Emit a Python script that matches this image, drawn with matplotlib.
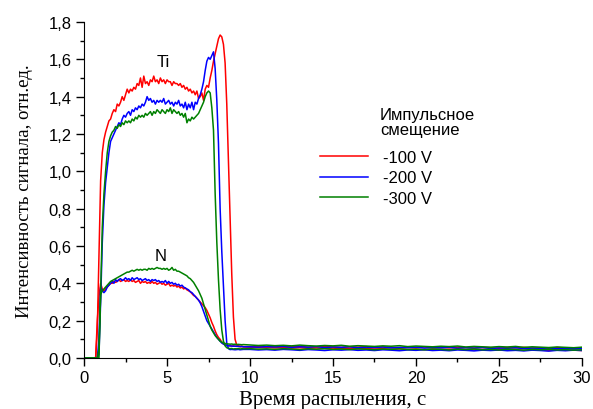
import numpy as np
import matplotlib
matplotlib.use("Agg")
import matplotlib.pyplot as plt
from matplotlib.ticker import MultipleLocator, FuncFormatter

# время: до начала сигнала, основной участок (шаг 0.1 с), хвост (шаг 0.5 с)
t_pre = [0.0, 0.4]
t_main = np.round(np.arange(0.7, 9.65, 0.1), 2)
t_tail = np.round(np.arange(10.0, 30.01, 0.5), 2)
t = np.concatenate([t_pre, t_main, t_tail])

# Ti, -100 V
ti_100 = [0.0, 0.0,
          0.00, 0.15, 0.55, 0.95, 1.10, 1.17, 1.21, 1.24, 1.27, 1.28,
          1.31, 1.33, 1.32, 1.36, 1.35, 1.37, 1.40, 1.38, 1.41, 1.44,
          1.42, 1.44, 1.43, 1.45, 1.44, 1.47, 1.46, 1.50, 1.45, 1.51,
          1.47, 1.48, 1.46, 1.49, 1.48, 1.51, 1.48, 1.49, 1.47, 1.50,
          1.48, 1.49, 1.47, 1.49, 1.48, 1.48, 1.46, 1.48, 1.47, 1.47,
          1.46, 1.47, 1.45, 1.46, 1.44, 1.45, 1.43, 1.44, 1.42, 1.43,
          1.41, 1.43, 1.39, 1.40, 1.42, 1.38, 1.44, 1.46, 1.45, 1.50,
          1.54, 1.59, 1.63, 1.67, 1.71, 1.73, 1.72, 1.68, 1.58, 1.36,
          1.05, 0.72, 0.45, 0.22, 0.10, 0.07, 0.065, 0.06, 0.062, 0.06,
          0.058, 0.055, 0.057, 0.054, 0.056, 0.053, 0.055, 0.052, 0.054, 0.051,
          0.053, 0.050, 0.052, 0.049, 0.051, 0.048, 0.050, 0.047, 0.049, 0.046,
          0.048, 0.045, 0.047, 0.046, 0.044, 0.047, 0.045, 0.043, 0.046, 0.044,
          0.042, 0.045, 0.043, 0.041, 0.044, 0.042, 0.040, 0.043, 0.041, 0.042, 0.040]

# Ti, -200 V
ti_200 = [0.0, 0.0,
          0.00, 0.00, 0.02, 0.30, 0.62, 0.82, 0.94, 1.02, 1.10, 1.16,
          1.18, 1.20, 1.22, 1.24, 1.26, 1.25, 1.28, 1.30, 1.29, 1.31,
          1.32, 1.30, 1.33, 1.32, 1.34, 1.33, 1.35, 1.34, 1.36, 1.35,
          1.37, 1.40, 1.38, 1.39, 1.37, 1.38, 1.36, 1.38, 1.37, 1.38,
          1.37, 1.39, 1.36, 1.37, 1.38, 1.36, 1.37, 1.35, 1.37, 1.36,
          1.38, 1.35, 1.36, 1.34, 1.37, 1.33, 1.36, 1.34, 1.37, 1.33,
          1.37, 1.36, 1.39, 1.41, 1.44, 1.48, 1.54, 1.59, 1.61, 1.60,
          1.62, 1.64, 1.55, 1.38, 1.15, 0.80, 0.57, 0.38, 0.20, 0.08,
          0.05, 0.045, 0.046, 0.045, 0.044, 0.045, 0.046, 0.044, 0.045, 0.046,
          0.046, 0.043, 0.045, 0.042, 0.046, 0.044, 0.041, 0.045, 0.043, 0.040,
          0.044, 0.042, 0.045, 0.041, 0.043, 0.040, 0.044, 0.042, 0.039, 0.043,
          0.041, 0.044, 0.040, 0.042, 0.039, 0.043, 0.041, 0.038, 0.042, 0.040,
          0.043, 0.039, 0.041, 0.038, 0.042, 0.040, 0.037, 0.041, 0.039, 0.042, 0.040]

# Ti, -300 V
ti_300 = [0.0, 0.0,
          0.00, 0.00, 0.00, 0.35, 0.70, 0.88, 1.00, 1.10, 1.16, 1.19,
          1.21, 1.22, 1.24, 1.23, 1.25, 1.24, 1.26, 1.25, 1.27, 1.26,
          1.27, 1.26, 1.28, 1.27, 1.29, 1.28, 1.30, 1.29, 1.30, 1.29,
          1.31, 1.30, 1.31, 1.32, 1.30, 1.32, 1.31, 1.33, 1.32, 1.31,
          1.33, 1.32, 1.31, 1.33, 1.32, 1.34, 1.31, 1.33, 1.32, 1.31,
          1.32, 1.30, 1.31, 1.29, 1.31, 1.26, 1.28, 1.27, 1.29, 1.28,
          1.29, 1.30, 1.31, 1.33, 1.35, 1.37, 1.40, 1.42, 1.43, 1.42,
          1.34, 1.22, 0.88, 0.62, 0.42, 0.26, 0.15, 0.09, 0.065, 0.055,
          0.052, 0.050, 0.051, 0.048, 0.050, 0.049, 0.051, 0.048, 0.050, 0.049,
          0.050, 0.047, 0.049, 0.046, 0.050, 0.048, 0.045, 0.049, 0.047, 0.050,
          0.046, 0.048, 0.045, 0.049, 0.047, 0.044, 0.048, 0.046, 0.049, 0.045,
          0.047, 0.044, 0.048, 0.046, 0.043, 0.047, 0.045, 0.048, 0.044, 0.046,
          0.043, 0.047, 0.045, 0.042, 0.046, 0.044, 0.047, 0.043, 0.045, 0.042, 0.044]

# N, -100 V
n_100 = [0.0, 0.0,
         0.00, 0.20, 0.33, 0.40, 0.37, 0.36, 0.37, 0.38, 0.39, 0.40,
         0.40, 0.41, 0.405, 0.41, 0.42, 0.41, 0.415, 0.42, 0.41, 0.415,
         0.41, 0.42, 0.41, 0.415, 0.405, 0.41, 0.415, 0.40, 0.41, 0.405,
         0.41, 0.40, 0.405, 0.40, 0.41, 0.40, 0.405, 0.395, 0.40, 0.405,
         0.395, 0.40, 0.39, 0.395, 0.40, 0.385, 0.39, 0.385, 0.39, 0.38,
         0.385, 0.375, 0.38, 0.37, 0.375, 0.365, 0.36, 0.355, 0.345, 0.335,
         0.33, 0.32, 0.31, 0.30, 0.29, 0.28, 0.27, 0.255, 0.235, 0.215,
         0.19, 0.17, 0.145, 0.125, 0.11, 0.10, 0.085, 0.075, 0.07, 0.068,
         0.066, 0.065, 0.064, 0.065, 0.063, 0.064, 0.062, 0.063, 0.062, 0.061,
         0.061, 0.063, 0.060, 0.062, 0.059, 0.061, 0.063, 0.058, 0.060, 0.062,
         0.059, 0.057, 0.060, 0.058, 0.061, 0.056, 0.059, 0.057, 0.055, 0.058,
         0.056, 0.059, 0.055, 0.057, 0.054, 0.058, 0.056, 0.053, 0.057, 0.055,
         0.052, 0.056, 0.054, 0.057, 0.053, 0.055, 0.052, 0.056, 0.054, 0.051, 0.053]

# N, -200 V
n_200 = [0.0, 0.0,
         0.00, 0.00, 0.10, 0.38, 0.36, 0.35, 0.36, 0.38, 0.39, 0.40,
         0.41, 0.40, 0.42, 0.41, 0.42, 0.425, 0.415, 0.42, 0.43, 0.42,
         0.425, 0.415, 0.43, 0.42, 0.425, 0.43, 0.42, 0.425, 0.415, 0.42,
         0.425, 0.415, 0.42, 0.41, 0.42, 0.415, 0.42, 0.41, 0.415, 0.405,
         0.41, 0.405, 0.415, 0.40, 0.41, 0.40, 0.405, 0.395, 0.40, 0.39,
         0.395, 0.385, 0.39, 0.38, 0.375, 0.37, 0.365, 0.355, 0.35, 0.34,
         0.33, 0.32, 0.31, 0.295, 0.275, 0.25, 0.225, 0.20, 0.185, 0.17,
         0.155, 0.14, 0.125, 0.11, 0.10, 0.09, 0.08, 0.075, 0.07, 0.068,
         0.066, 0.065, 0.064, 0.063, 0.064, 0.062, 0.063, 0.061, 0.062, 0.060,
         0.060, 0.058, 0.061, 0.059, 0.062, 0.057, 0.060, 0.058, 0.061, 0.056,
         0.059, 0.057, 0.060, 0.055, 0.058, 0.056, 0.059, 0.054, 0.057, 0.055,
         0.058, 0.053, 0.056, 0.054, 0.057, 0.052, 0.055, 0.053, 0.056, 0.051,
         0.054, 0.052, 0.055, 0.050, 0.053, 0.051, 0.054, 0.050, 0.052, 0.049, 0.051]

# N, -300 V
n_300 = [0.0, 0.0,
         0.00, 0.00, 0.05, 0.34, 0.36, 0.37, 0.38, 0.39, 0.40, 0.41,
         0.415, 0.42, 0.425, 0.43, 0.435, 0.44, 0.445, 0.45, 0.455, 0.46,
         0.46, 0.465, 0.47, 0.465, 0.47, 0.475, 0.47, 0.475, 0.47, 0.475,
         0.475, 0.47, 0.48, 0.475, 0.48, 0.475, 0.48, 0.485, 0.48, 0.48,
         0.475, 0.48, 0.475, 0.48, 0.47, 0.475, 0.485, 0.47, 0.475, 0.465,
         0.465, 0.46, 0.455, 0.45, 0.445, 0.44, 0.43, 0.425, 0.415, 0.405,
         0.39, 0.375, 0.36, 0.34, 0.32, 0.29, 0.26, 0.23, 0.20, 0.17,
         0.15, 0.135, 0.12, 0.11, 0.10, 0.09, 0.085, 0.08, 0.078, 0.076,
         0.075, 0.074, 0.075, 0.073, 0.074, 0.072, 0.073, 0.072, 0.071, 0.072,
         0.070, 0.067, 0.069, 0.066, 0.068, 0.065, 0.069, 0.066, 0.064, 0.067,
         0.065, 0.068, 0.063, 0.066, 0.064, 0.062, 0.065, 0.063, 0.066, 0.061,
         0.064, 0.062, 0.060, 0.063, 0.061, 0.064, 0.059, 0.062, 0.060, 0.058,
         0.061, 0.059, 0.062, 0.057, 0.060, 0.058, 0.056, 0.059, 0.057, 0.055, 0.058]

labels = ["-100 V", "-200 V", "-300 V"]
colors = ["#ff0000", "#0000ff", "#008000"]

sans = "Liberation Sans"
serif = "Liberation Serif"

fig, ax = plt.subplots(figsize=(5.93, 4.10), dpi=100)
fig.subplots_adjust(left=0.1417, right=0.9814, bottom=0.1244, top=0.944)

for ti, n, lab, c in zip([ti_100, ti_200, ti_300], [n_100, n_200, n_300], labels, colors):
    ax.plot(t, ti, color=c, lw=1.1, label=lab)
    ax.plot(t, n, color=c, lw=1.1)

ax.set_xlim(0, 30)
ax.set_ylim(0, 1.8)
ax.spines["top"].set_visible(False)
ax.spines["right"].set_visible(False)
ax.xaxis.set_major_locator(MultipleLocator(5))
ax.xaxis.set_minor_locator(MultipleLocator(2.5))
ax.yaxis.set_major_locator(MultipleLocator(0.2))
ax.yaxis.set_minor_locator(MultipleLocator(0.1))
ax.yaxis.set_major_formatter(FuncFormatter(lambda v, p: f"{v:.1f}".replace(".", ",")))
ax.tick_params(which="major", direction="out", length=6, width=1, labelsize=12, pad=3)
ax.tick_params(which="minor", direction="out", length=3, width=1)
for lbl in ax.get_xticklabels() + ax.get_yticklabels():
    lbl.set_fontfamily(sans)

ax.set_xlabel("Время распыления, с", family=serif, fontsize=15, labelpad=3)
ax.set_ylabel("Интенсивность сигнала, отн.ед.", family=serif, fontsize=13.5, labelpad=11)

ax.text(4.8, 1.59, "Ti", family=sans, fontsize=12, ha="center", va="center")
ax.text(4.6, 0.55, "N", family=sans, fontsize=12, ha="center", va="center")

ax.text(0.594, 0.748, "Импульсное\nсмещение", transform=ax.transAxes,
        family=sans, fontsize=12, ha="left", va="top", linespacing=1.05)
ax.legend(loc="upper left", bbox_to_anchor=(0.474, 0.62), frameon=False,
          prop={"family": sans, "size": 12}, handlelength=2.9, handletextpad=0.9,
          labelspacing=0.35, borderpad=0, borderaxespad=0)

fig.savefig("out.png", dpi=100)
